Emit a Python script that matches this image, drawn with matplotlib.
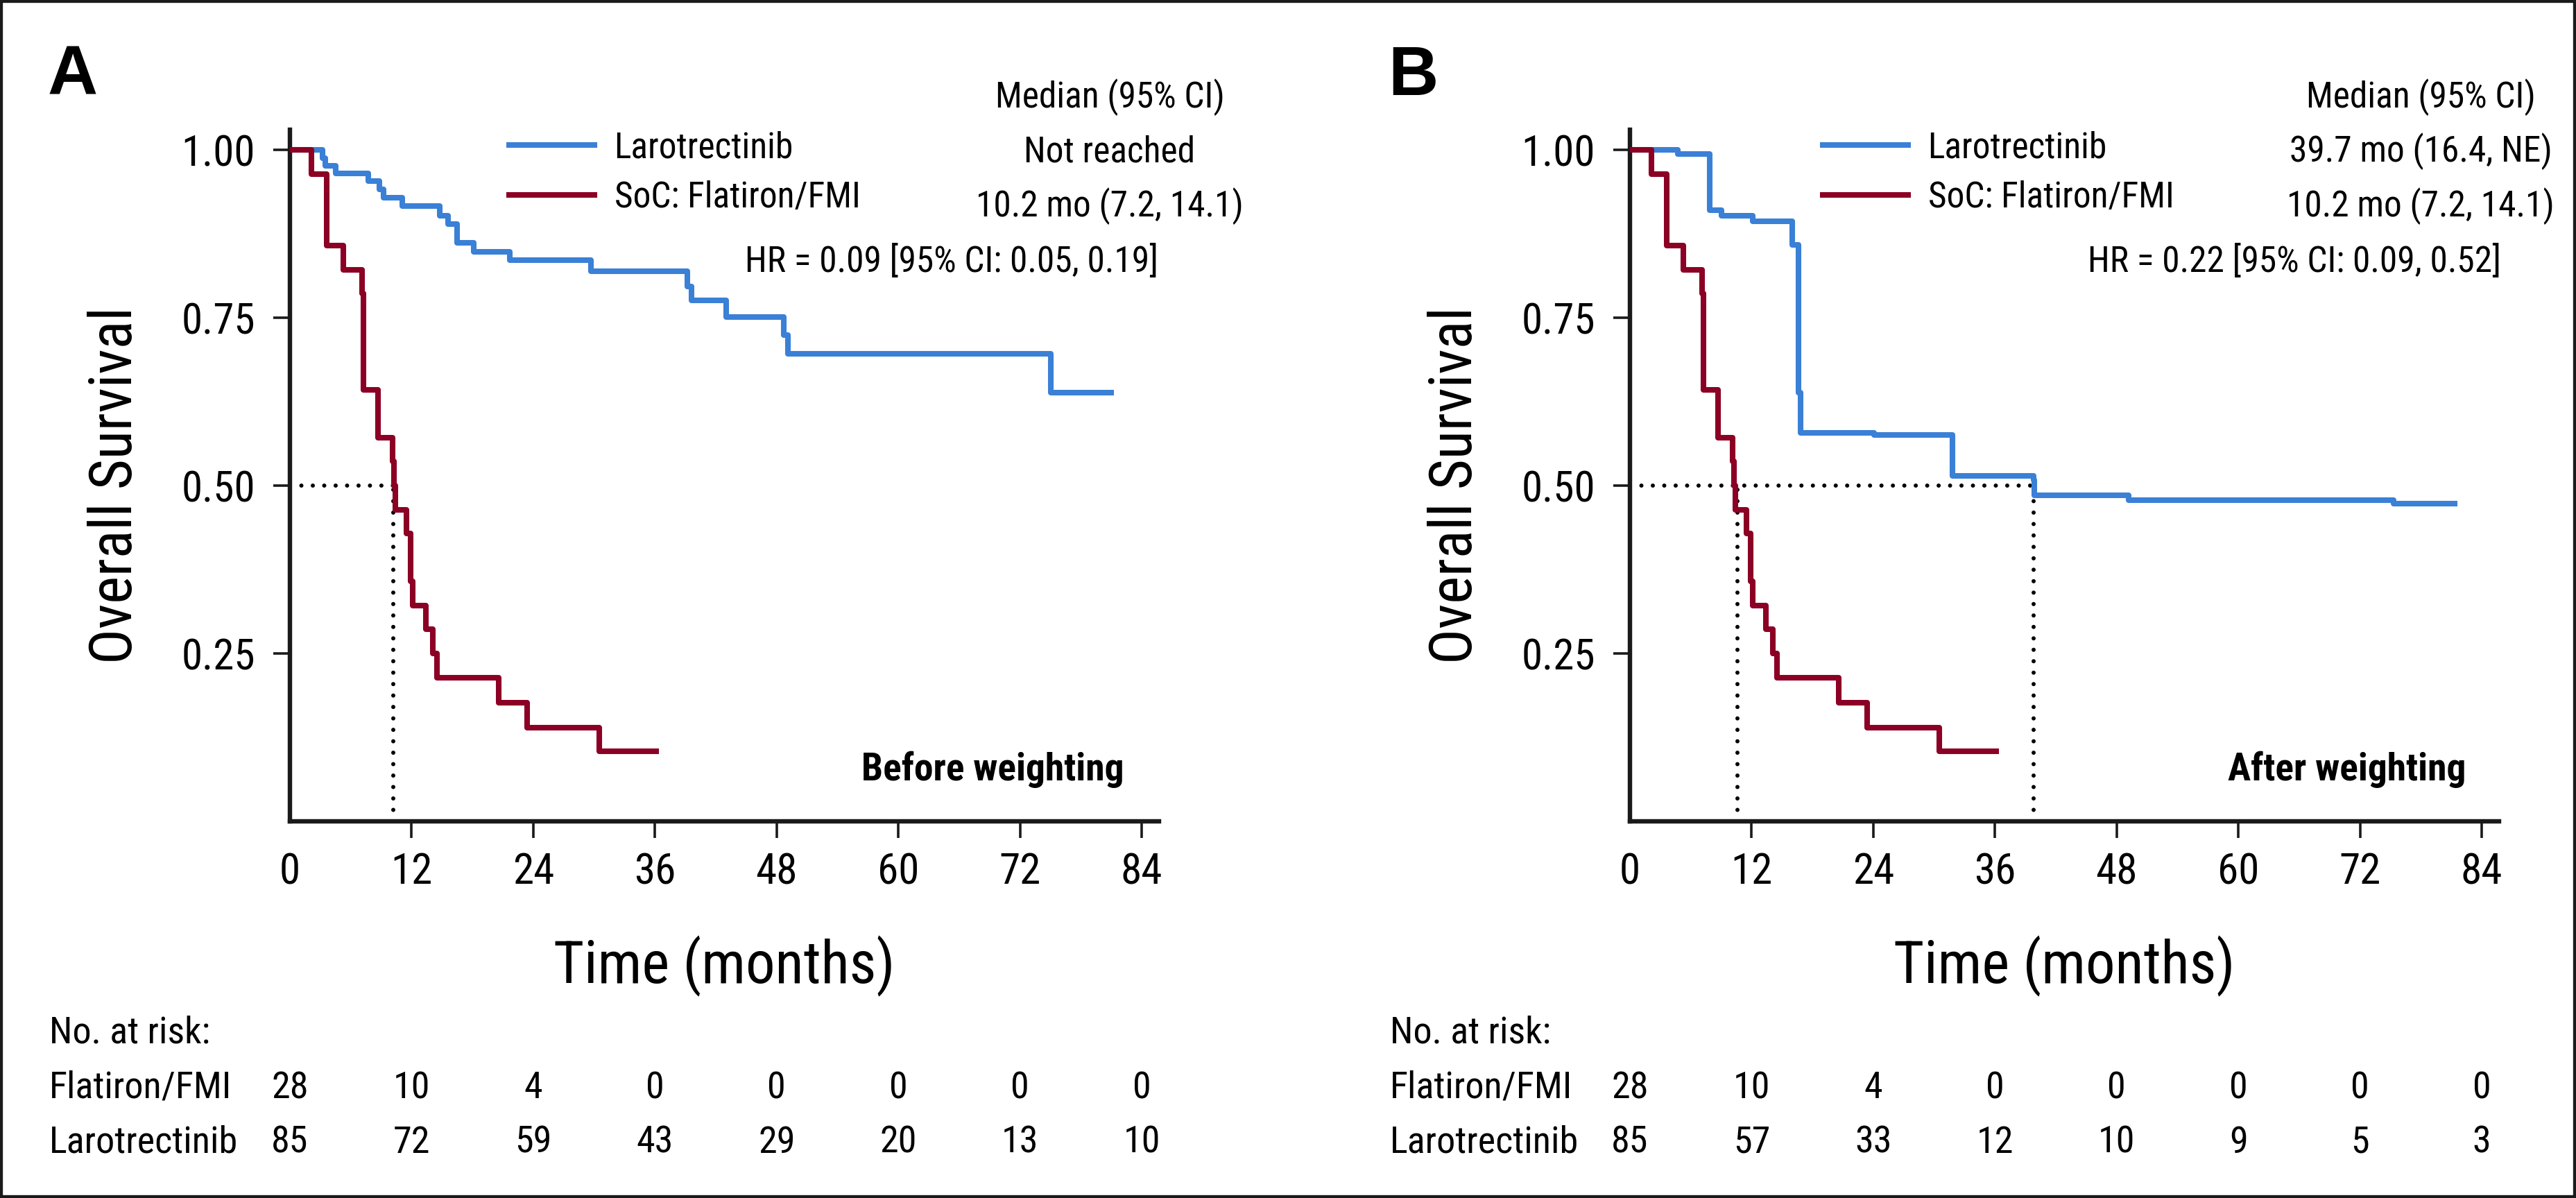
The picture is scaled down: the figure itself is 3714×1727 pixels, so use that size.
import matplotlib
matplotlib.use('Agg')
import matplotlib.pyplot as plt
from matplotlib.patches import Rectangle
from matplotlib.transforms import blended_transform_factory

# condensed face close to the journal's Helvetica Condensed
plt.rcParams['font.family'] = ['Roboto Condensed', 'Liberation Sans', 'DejaVu Sans']
BOLD_LETTER = ['Liberation Sans', 'DejaVu Sans']

# Kaplan-Meier steps (time in months, survival)
soc_time = [0, 2.1, 3.6, 5.3, 7.1, 7.25, 8.7, 10.1, 10.25, 10.4, 11.5, 11.9, 12.1, 13.4, 14.1, 14.5, 20.6, 23.4, 30.5, 36.1]
soc_surv = [1.0, 0.964, 0.857, 0.821, 0.786, 0.643, 0.571, 0.536, 0.500, 0.464, 0.429, 0.357, 0.321, 0.286, 0.250, 0.214, 0.177, 0.139, 0.104, 0.104]

laro_a_time = [0, 3.2, 3.5, 4.5, 7.7, 8.8, 9.2, 11.1, 14.8, 15.6, 16.5, 18.1, 21.7, 29.7, 39.2, 39.6, 43.0, 48.7, 49.1, 75.0, 81.0]
laro_a_surv = [1.0, 0.988, 0.976, 0.965, 0.953, 0.941, 0.929, 0.916, 0.902, 0.889, 0.862, 0.848, 0.836, 0.819, 0.797, 0.776, 0.751, 0.724, 0.696, 0.638, 0.638]

laro_b_time = [0, 4.75, 7.9, 9.0, 12.1, 16.0, 16.6, 16.8, 24.1, 31.8, 39.8, 39.9, 49.2, 75.3, 81.3]
laro_b_surv = [1.0, 0.994, 0.910, 0.902, 0.894, 0.858, 0.638, 0.578, 0.575, 0.514, 0.508, 0.486, 0.478, 0.473, 0.473]

time_ticks = [0, 12, 24, 36, 48, 60, 72, 84]
surv_ticks = [0.25, 0.50, 0.75, 1.00]

risk_soc = [28, 10, 4, 0, 0, 0, 0, 0]
risk_laro_a = [85, 72, 59, 43, 29, 20, 13, 10]
risk_laro_b = [85, 57, 33, 12, 10, 9, 5, 3]

median_soc = '10.2 mo (7.2, 14.1)'
median_laro = ['Not reached', '39.7 mo (16.4, NE)']
hr_text = ['HR = 0.09 [95% CI: 0.05, 0.19]', 'HR = 0.22 [95% CI: 0.09, 0.52]']
weight_text = ['Before weighting', 'After weighting']
median_lines = [[10.2], [10.6, 39.8]]

BLUE = '#3a80d6'
RED = '#8b0024'
INK = '#1a1a1a'

W, H = 3714, 1727
TXT = 37
RISK = 39


def fx(px):
    return px / W


def fy(py):
    return 1 - py / H


fig = plt.figure(figsize=(W / 100, H / 100), dpi=100)
fig.patch.set_facecolor('white')


def draw_panel(left, letter, laro_t, laro_s, laro_risk, med_laro, hr, wtxt, med_x,
               leg_x, med_cx, hr_right, w_right, table_x):
    ppm = 14.62
    xmax = 85.7
    ax = fig.add_axes([fx(left), fy(1184), xmax * ppm / W, 1.03 * 968 / H])
    ax.set_xlim(0, xmax)
    ax.set_ylim(0, 1.03)

    # median guides
    ax.plot([0, max(med_x)], [0.5, 0.5], color='black', lw=4.3,
            ls=(0, (0.01, 2.75)), dash_capstyle='round', zorder=1)
    for m in med_x:
        ax.plot([m, m], [0, 0.5], color='black', lw=4.3,
                ls=(0, (0.01, 2.75)), dash_capstyle='round', zorder=1)

    l1, = ax.step(laro_t, laro_s, where='post', color=BLUE, lw=5.8, zorder=3)
    l2, = ax.step(soc_time, soc_surv, where='post', color=RED, lw=5.8, zorder=4)

    for s in ['top', 'right']:
        ax.spines[s].set_visible(False)
    for s in ['left', 'bottom']:
        ax.spines[s].set_linewidth(4.6)
        ax.spines[s].set_color(INK)

    ax.set_xticks(time_ticks)
    ax.set_xticklabels([str(t) for t in time_ticks])
    ax.xaxis.get_major_ticks()[0].tick1line.set_visible(False)
    ax.set_yticks(surv_ticks)
    ax.set_yticklabels(['{:.2f}'.format(v) for v in surv_ticks])
    ax.tick_params(axis='both', direction='out', length=17, width=2.6,
                   labelsize=44, color=INK)
    ax.tick_params(axis='y', pad=19)
    ax.tick_params(axis='x', pad=15)

    ax.set_xlabel('Time (months)', fontsize=61)
    ax.xaxis.label.set_va('baseline')
    ax.xaxis.set_label_coords(0.5, -(1417 - 1184) / 997)
    ax.set_ylabel('Overall Survival', fontsize=61)
    ax.yaxis.label.set_va('center')
    ax.yaxis.set_label_coords(-252 / 1253, 0.486)

    ax.legend([l1, l2], ['Larotrectinib', 'SoC: Flatiron/FMI'], loc='upper left',
              bbox_to_anchor=(fx(leg_x), fy(188)), bbox_transform=fig.transFigure,
              frameon=False, fontsize=TXT, handlelength=2.4, handletextpad=0.55,
              labelspacing=0.42, borderpad=0, borderaxespad=0)

    fig.text(fx(med_cx), fy(155), 'Median (95% CI)', ha='center', va='baseline',
             fontsize=TXT)
    fig.text(fx(med_cx), fy(233), med_laro, ha='center', va='baseline', fontsize=TXT)
    fig.text(fx(med_cx), fy(312), median_soc, ha='center', va='baseline', fontsize=TXT)
    fig.text(fx(hr_right), fy(392), hr, ha='right', va='baseline', fontsize=TXT)
    fig.text(fx(w_right), fy(1125), wtxt, ha='right', va='baseline', fontsize=40,
             weight='bold')
    fig.text(fx(left - 349), fy(137), letter, ha='left', va='baseline', fontsize=72,
             weight='bold', family=BOLD_LETTER)

    # number at risk table
    trans = blended_transform_factory(ax.transData, fig.transFigure)
    for row_y, label in [(1503, 'No. at risk:'), (1583, 'Flatiron/FMI'),
                         (1662, 'Larotrectinib')]:
        fig.text(fx(table_x), fy(row_y), label, ha='left', va='baseline', fontsize=RISK)
    for t, n1, n2 in zip(time_ticks, risk_soc, laro_risk):
        ax.text(t, fy(1583), str(n1), transform=trans, ha='center', va='baseline',
                fontsize=RISK)
        ax.text(t, fy(1662), str(n2), transform=trans, ha='center', va='baseline',
                fontsize=RISK)
    return ax


draw_panel(418, 'A', laro_a_time, laro_a_surv, risk_laro_a, median_laro[0], hr_text[0],
           weight_text[0], median_lines[0], 734, 1600, 1670, 1620, 71)
draw_panel(2350, 'B', laro_b_time, laro_b_surv, risk_laro_b, median_laro[1], hr_text[1],
           weight_text[1], median_lines[1], 2628, 3490, 3606, 3555, 2004)

fig.add_artist(Rectangle((0, 0), 1, 1, transform=fig.transFigure, fill=False,
                         lw=6, ec=INK))

fig.savefig('out.png', dpi=100)
